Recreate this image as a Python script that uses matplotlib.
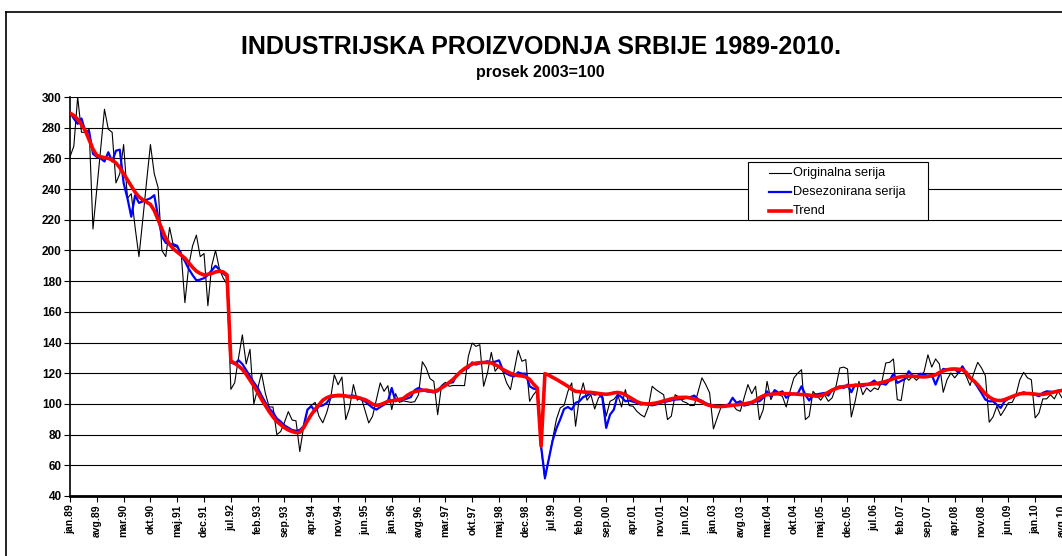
import numpy as np
import matplotlib
matplotlib.use("Agg")
import matplotlib.pyplot as plt
from matplotlib.lines import Line2D
from matplotlib.patches import Rectangle

# monthly index, jan.89 .. avg.10
originalna = [
    261, 268, 300, 277, 277, 279, 214, 240, 266, 292, 279, 277,            # 1989
    244, 250, 269, 234, 237, 215, 196, 220, 245, 269, 250, 241,            # 1990
    200, 196, 215, 203, 202, 199, 166, 190, 203, 210, 196, 198,            # 1991
    164, 190, 200, 188, 182, 178, 109.5, 113.8, 130, 145, 126, 135.6,      # 1992
    100, 110, 120, 107, 98, 98, 80, 82, 88, 95, 89.5, 89,                  # 1993
    69, 85, 96, 99, 101, 92, 87.7, 94.2, 103, 119, 112.5, 117.5,           # 1994
    89.8, 97.4, 112.6, 102.4, 104.5, 96, 87.6, 92, 103, 113.7, 108.2, 111.9,   # 1995
    96.3, 106.7, 101, 102, 101.5, 101, 101.5, 106, 127.5, 123.4, 116.5, 114.7, # 1996
    93, 112, 114.1, 111.5, 112, 112, 112, 111.9, 131, 139.7, 137.5, 138.6,     # 1997
    111.5, 120.2, 133.6, 121.3, 124.5, 121.3, 113.7, 109.3, 122, 134.9, 127.8, 128.9,  # 1998
    101.7, 106, 109, 71, 51, 64, 77, 90, 97.4, 99, 108.2, 113.7,           # 1999
    85.5, 104, 113.7, 102.4, 106, 96.7, 104, 106, 92, 101.7, 103, 106,     # 2000
    98, 109.3, 98.9, 98.5, 95.2, 93, 91.5, 98, 111.5, 109.3, 107.6, 106,   # 2001
    89.8, 92, 106, 104.5, 101.7, 100.7, 98.9, 99, 108, 117, 112.6, 107.2,  # 2002
    83.7, 91, 98, 99, 100, 99.6, 96.3, 95.2, 104, 112.6, 106.7, 111.5,     # 2003
    89.8, 96.3, 114.7, 102.8, 108.2, 106, 105, 98, 108.2, 116.9, 120, 122.3,   # 2004
    89.8, 92, 108.2, 105.4, 102.4, 106, 101.7, 104, 111.5, 123.4, 124, 122.8,  # 2005
    91.5, 101.7, 114.7, 106, 110.4, 108, 110.4, 109.3, 114.7, 126.7, 127.1, 129.3,  # 2006
    102.8, 102.2, 118, 115.4, 118, 115.4, 118, 121, 132, 124, 129.3, 126,  # 2007
    107.6, 115.8, 120.2, 117, 120.2, 122.8, 118, 112, 120.2, 127.1, 123.4, 118.4,  # 2008
    88.1, 91.5, 98.5, 92.4, 96.3, 100.7, 101, 106, 115.8, 120.6, 117, 115.8,   # 2009
    90.9, 94.1, 103.3, 103.3, 106, 103.3, 108.2, 104,                      # 2010
]

desezonirana = [
    290, 286, 282.5, 286, 277.5, 277.5, 263, 261, 260, 258, 264, 258,      # 1989
    265, 265.7, 244, 234, 222, 236, 231, 232, 233, 234, 236, 222,          # 1990
    209, 205, 204, 204, 203, 197, 193, 188, 184, 180.5, 181, 182,          # 1991
    184, 187, 190, 187.5, 185, 183, 127, 126, 128.5, 126, 122, 118,        # 1992
    114, 110.5, 105.5, 101, 97, 94.5, 90.5, 88.5, 86, 84.5, 83, 82.5,      # 1993
    83, 85.5, 96.3, 98.5, 95.2, 98.5, 99, 100.6, 104, 105, 105, 105,       # 1994
    105, 105.3, 105.4, 104.5, 103, 101.7, 99.5, 97.5, 96.3, 98, 99.5, 101.7,   # 1995
    110.4, 101.7, 102.8, 102.8, 103.5, 104.5, 109, 110.4, 109.3, 108.2, 107.9, 107.6,  # 1996
    108.2, 111.5, 112.5, 113.7, 114.1, 119.1, 121, 122.5, 123.4, 127.1, 125.6, 126.5,  # 1997
    127.1, 127.8, 127.1, 127.5, 128.4, 122.3, 119.7, 118.5, 118, 120.6, 119.7, 119.7,  # 1998
    111.5, 110, 109.3, 72.5, 51.8, 64, 76, 84, 90, 96.7, 98, 96.3,         # 1999
    100.7, 101.7, 104.5, 105.4, 107.2, 106, 106.7, 103.9, 84.4, 93, 96.3, 106,     # 2000
    104.5, 101.7, 102.2, 101.5, 100.7, 99.6, 100, 99.5, 99.1, 99.6, 100.7, 101.2,  # 2001
    101.7, 102.3, 102.8, 103, 103.3, 104, 104.5, 105.4, 103, 102, 100.5, 99.5,     # 2002
    99, 98.5, 98, 99, 99.6, 104, 100.7, 101.7, 98.9, 99.5, 100.2, 101.7,  # 2003
    101.7, 104, 108.2, 105, 109, 107.2, 108.2, 104, 106, 106.5, 106.7, 111.5,      # 2004
    106, 102.2, 106, 106.3, 106.7, 107.2, 105.4, 109.3, 110.5, 111.5, 110.4, 112.6,  # 2005
    107.6, 112.6, 112, 111.5, 112.6, 113.5, 115.2, 112.6, 113.2, 112.6, 115.4, 119.7,  # 2006
    113.7, 115, 116.3, 121.3, 118.4, 117.6, 119.7, 119, 118.4, 119, 112.6, 119,    # 2007
    122.8, 122.5, 122.3, 122.8, 120.2, 124.5, 120.2, 117.5, 114.7, 111, 107, 102.8,  # 2008
    101.7, 101.7, 99.5, 97.4, 101.7, 103.3, 104.5, 105.5, 106.7, 107.6, 106.7, 106.3,  # 2009
    106, 105, 107.2, 108.2, 108, 107.6, 108.7, 108.5,                      # 2010
]

trend = [
    289.5, 288, 285.5, 282, 278, 272, 266, 262, 261, 260.5, 260, 259,      # 1989
    257, 254, 250, 246, 242, 238, 235, 233, 231.5, 230, 226, 220,          # 1990
    214, 208, 204, 201, 199, 197, 195, 192, 189, 186.5, 185, 184,          # 1991
    184.5, 185, 186, 186.5, 186, 184, 128, 126.5, 124.7, 122.5, 119.3, 115.5,  # 1992
    111.7, 107.5, 103, 99, 95, 91.5, 88.5, 86.5, 84.5, 83, 82, 81.3,       # 1993
    81.5, 84.5, 89, 93, 96.5, 99.5, 102.4, 104, 105, 105.3, 105.6, 105.5,  # 1994
    105.2, 104.6, 104.5, 104.3, 103.5, 102.8, 101.5, 99.8, 99.1, 99.5, 100.5, 101.7,  # 1995
    102, 102.5, 103, 103.5, 105.5, 107, 108, 108.6, 108.9, 109, 108.5, 108,  # 1996
    109, 110.5, 112, 114, 116, 118.5, 121, 123, 124.6, 126, 126.6, 126.9,  # 1997
    127, 127, 126.7, 125.5, 124.3, 122.5, 121.2, 120, 119, 118.5, 118.2, 117.6,  # 1998
    116, 113, 110.4, 72.5, 119.7, 118.8, 117.3, 116, 114.5, 113, 111.5, 109.5,   # 1999
    108.2, 108, 107.8, 107.6, 107.5, 107.2, 106.8, 106.5, 106.3, 106.6, 107.2, 107.5,  # 2000
    107, 106, 104.5, 103, 101.5, 100.5, 100.1, 100, 100.2, 100.6, 101.2, 102,  # 2001
    102.6, 103.3, 103.8, 104.2, 104.3, 104.3, 103.8, 103.2, 102.5, 101.3, 99.8, 99,  # 2002
    98.5, 98.3, 98.3, 98.5, 98.8, 99.1, 99.4, 99.7, 100, 100.5, 101, 102.3,  # 2003
    104, 105.3, 106, 106.3, 106.5, 106.6, 106.7, 106.7, 106.6, 106.5, 106.3, 106.1,  # 2004
    106, 105.7, 105.3, 105, 105.3, 106.3, 107.6, 109, 110, 110.8, 111.3, 111.6,  # 2005
    111.9, 112.1, 112.3, 112.5, 112.7, 112.9, 113.1, 113.5, 114, 114.7, 115.5, 116.5,  # 2006
    117.2, 117.7, 118, 118, 118, 117.9, 117.7, 117.6, 117.9, 118.3, 119, 120.5,  # 2007
    121.5, 122.3, 122.7, 122.8, 122.6, 122.3, 120.5, 117, 115, 112.5, 109.5, 106.5,  # 2008
    104.5, 103, 102.3, 102.2, 102.8, 103.8, 104.8, 105.8, 106.6, 106.8, 106.8, 106.7,  # 2009
    106.4, 106.1, 106.2, 106.6, 107.2, 107.8, 108.3, 108.8,                # 2010
]

tick_labels = ['jan.89', 'avg.89', 'mar.90', 'okt.90', 'maj.91', 'dec.91', 'jul.92',
               'feb.93', 'sep.93', 'apr.94', 'nov.94', 'jun.95', 'jan.96', 'avg.96',
               'mar.97', 'okt.97', 'maj.98', 'dec.98', 'jul.99', 'feb.00', 'sep.00',
               'apr.01', 'nov.01', 'jun.02', 'jan.03', 'avg.03', 'mar.04', 'okt.04',
               'maj.05', 'dec.05', 'jul.06', 'feb.07', 'sep.07', 'apr.08', 'nov.08',
               'jun.09', 'jan.10', 'avg.10']

series_names = ['Originalna serija', 'Desezonirana serija', 'Trend']

plt.rcParams['font.family'] = ['Liberation Sans', 'DejaVu Sans']

W, H = 1062, 556
fig = plt.figure(figsize=(W / 100, H / 100), dpi=100)

# outer chart frame (left and top edges visible)
fig.add_artist(Line2D([6 / W, 6 / W], [0, 1 - 12 / H], transform=fig.transFigure,
                      color='black', lw=1.2))
fig.add_artist(Line2D([6 / W, 1], [1 - 12 / H, 1 - 12 / H], transform=fig.transFigure,
                      color='black', lw=1.2))

px_per_month = 3.83
ax = fig.add_axes([70 / W, 60 / H, 260 * px_per_month / W, 399 / H])
months = np.arange(len(trend))

ax.plot(months, originalna, color='black', lw=0.8, zorder=3)
ax.plot(months, desezonirana, color='#0000FF', lw=1.6, zorder=4)
ax.plot(months, trend, color='#FF0000', lw=2.6, zorder=5)

ax.set_xlim(0, 260)
ax.set_ylim(40, 300)
ax.set_yticks(np.arange(40, 301, 20))
ax.set_xticks(months[::7])
ax.set_xticklabels(tick_labels, rotation=90, fontsize=7.5, fontweight='bold')
for lab in ax.get_yticklabels():
    lab.set_fontweight('bold')
    lab.set_fontsize(8.5)

ax.yaxis.grid(True, color='black', lw=0.8)
ax.set_axisbelow(True)
ax.tick_params(axis='y', length=4, width=0.8, pad=2)
ax.tick_params(axis='x', length=4, width=0.8, pad=2)
ax.spines['top'].set_visible(False)
ax.spines['right'].set_visible(False)
ax.spines['bottom'].set_linewidth(2.0)
ax.spines['left'].set_linewidth(1.2)

fig.text(541 / W, 1 - 47 / H, 'INDUSTRIJSKA PROIZVODNJA SRBIJE 1989-2010.',
         ha='center', va='center', fontsize=18, fontweight='bold')
fig.text(540 / W, 1 - 72 / H, 'prosek 2003=100', ha='center', va='center',
         fontsize=11.5, fontweight='bold')

# legend box
fig.add_artist(Rectangle((748 / W, 1 - 220 / H), 180 / W, 58 / H, transform=fig.transFigure,
                         facecolor='white', edgecolor='black', lw=0.8, zorder=10))
rows = [173, 192, 211]
colors = ['black', '#0000FF', '#FF0000']
widths = [0.8, 1.6, 2.6]
for name, y, c, lw in zip(series_names, rows, colors, widths):
    fig.add_artist(Line2D([769 / W, 791 / W], [1 - y / H, 1 - y / H],
                          transform=fig.transFigure, color=c, lw=lw, zorder=11))
    fig.text(793 / W, 1 - y / H, name, ha='left', va='center', fontsize=9.2, zorder=12)

fig.savefig('out.png', dpi=100)
